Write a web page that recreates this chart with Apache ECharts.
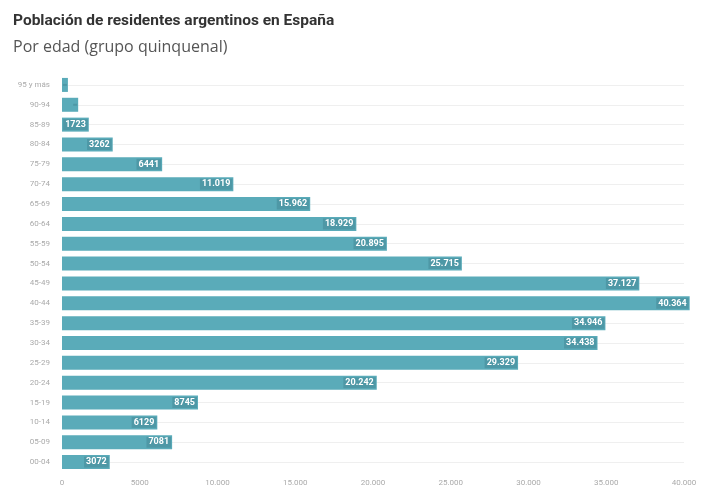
<!DOCTYPE html>
<html>
<head>
<meta charset="utf-8">
<script src="https://cdn.jsdelivr.net/npm/echarts@6/dist/echarts.min.js"></script>
<style>html,body{margin:0;padding:0;background:#fff;}#c{width:707px;height:489px;}</style>
</head>
<body>
<div id="c"></div>
<script>
var categories = ["95 y más","90-94","85-89","80-84","75-79","70-74","65-69","60-64","55-59","50-54","45-49","40-44","35-39","30-34","25-29","20-24","15-19","10-14","05-09","00-04"];
var values = [380,1040,1723,3262,6441,11019,15962,18929,20895,25715,37127,40364,34946,34438,29329,20242,8745,6129,7081,3072];
var xTicks = [0,5000,10000,15000,20000,25000,30000,35000,40000];
var titleText = "Población de residentes argentinos en España";
var subtitleText = "Por edad (grupo quinquenal)";

function fmt(v){
  if (v < 10000) return String(v);
  var s = String(v);
  return s.slice(0, s.length-3) + "." + s.slice(s.length-3);
}

var chart = echarts.init(document.getElementById('c'), null, {renderer:'canvas'});
chart.setOption({
  animation:false,
  backgroundColor:'#ffffff',
  title:[
    {text:titleText, left:8, top:8, textStyle:{fontFamily:'Roboto', fontWeight:'bold', fontSize:15.5, color:'#333'}},
    {text:subtitleText, left:8, top:34, textStyle:{fontFamily:'Open Sans', fontWeight:'normal', fontSize:16, color:'#555'}}
  ],
  grid:{left:62, right:23, top:75, bottom:17, containLabel:false},
  xAxis:{
    type:'value', min:xTicks[0], max:xTicks[xTicks.length-1], interval:5000,
    axisLine:{show:false}, axisTick:{show:false}, splitLine:{show:false},
    axisLabel:{color:'#aaa', fontSize:8, fontFamily:'Roboto', margin:7, formatter:function(v){return fmt(v);}}
  },
  yAxis:{
    type:'category', data:categories, inverse:true,
    axisLine:{show:false}, axisTick:{show:false},
    splitLine:{show:true, alignWithLabel:true, lineStyle:{color:'#efefef', width:1}},
    axisLabel:{color:'#aaa', fontSize:8, fontFamily:'Roboto', margin:12}
  },
  series:[{
    type:'bar', data:values, barWidth:14, clip:false,
    itemStyle:{color:'#5aabb9'},
    label:{show:true, position:'insideRight', distance:1, color:'#fff', fontWeight:'bold', fontSize:9, fontFamily:'Roboto',
      backgroundColor:'#4e98a6', padding:[1,2,1,2],
      formatter:function(p){return p.value >= 1500 ? fmt(p.value) : '';}}
  }]
});
</script>
</body>
</html>
